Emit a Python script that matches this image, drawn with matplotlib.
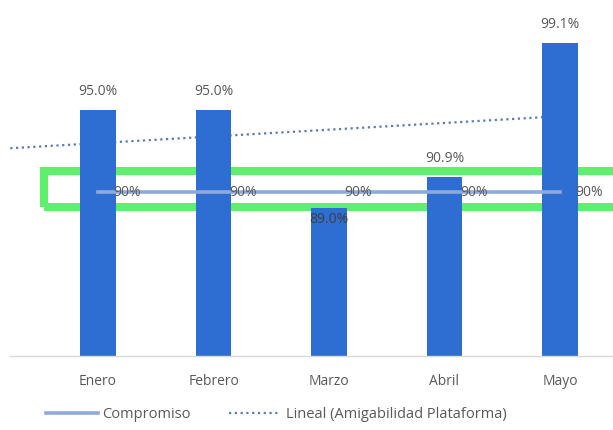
import numpy as np
from matplotlib import pyplot as plt
from matplotlib.patches import Rectangle

plt.rcParams['font.family'] = ['Open Sans', 'DejaVu Sans']

meses = ['Enero', 'Febrero', 'Marzo', 'Abril', 'Mayo']
amigabilidad = [95.0, 95.0, 89.0, 90.9, 99.1]
compromiso = [90, 90, 90, 90, 90]

azul = '#2e6dd2'
gris = '#595959'

fig = plt.figure(figsize=(6.13, 4.3), dpi=100)
ax = fig.add_axes([10/613, 74/430, 603/613, 328/430])

x = np.arange(len(meses))

# tendencia lineal de la serie de barras
m, b = np.polyfit(x, amigabilidad, 1)
xt = np.array([-0.76, 4.0])
ax.plot(xt, m*xt + b, color='#5a7bb5', lw=1.6, linestyle=(0, (1, 1.6)), zorder=1,
        label='Lineal (Amigabilidad Plataforma)')

# recuadro verde de resaltado
ax.add_patch(Rectangle((-0.468, 89.09), 6, 2.19, transform=ax.transData,
                       fill=False, edgecolor='#5ef06c', lw=5.8, zorder=1.5, clip_on=False))

ax.bar(x, amigabilidad, width=0.31, color=azul, zorder=2)
ax.plot(x, compromiso, color='#8eaadc', lw=2.6, zorder=3, label='Compromiso')

for i, v in enumerate(amigabilidad):
    dy = -8 if v < 90 else 13.5
    c = '#3f3f3f' if v < 90 else gris
    ax.annotate('%.1f%%' % v, (i, v), xytext=(0, dy), textcoords='offset points',
                ha='center', va='center', fontsize=10, color=c, zorder=5)

for i, v in enumerate(compromiso):
    ax.annotate('%d%%' % v, (i, v), xytext=(11, 0), textcoords='offset points',
                ha='left', va='center', fontsize=10, color=gris, zorder=5)

ax.set_xlim(-0.762, 4.459)
ax.set_ylim(80, 100)
ax.set_xticks(x, meses)
ax.tick_params(axis='x', length=0, pad=13, labelsize=10, labelcolor=gris)
ax.set_yticks([])
for s in ['top', 'left', 'right']:
    ax.spines[s].set_visible(False)
ax.spines['bottom'].set_color('#d9d9d9')
ax.spines['bottom'].set_linewidth(1)

h, l = ax.get_legend_handles_labels()
fig.legend(h[::-1], l[::-1], loc='center', bbox_to_anchor=(276/613, 15/430), ncol=2,
           frameon=False, fontsize=10.5, handlelength=3.6, handletextpad=0.3,
           columnspacing=2.6, labelcolor=gris)

fig.savefig('out.png', dpi=100, facecolor='white')
